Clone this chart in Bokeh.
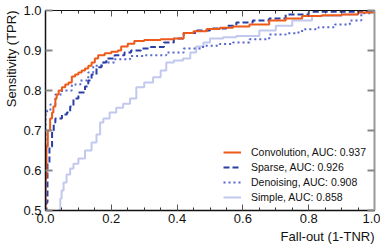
from bokeh.plotting import figure
from bokeh.models import (LinearAxis, Title, Legend, LegendItem, FixedTicker,
                          NumeralTickFormatter, CustomJSTickFormatter)
from bokeh.embed import file_html
from bokeh.resources import INLINE

# ROC data
conv_fpr = [0, 0, 0.003, 0.007, 0.014, 0.02, 0.024, 0.03, 0.034, 0.04, 0.05, 0.06, 0.07, 0.08, 0.09, 0.10,
            0.11, 0.12, 0.13, 0.14, 0.15, 0.16, 0.18, 0.20, 0.22, 0.23, 0.25, 0.27, 0.30, 0.35, 0.39, 0.42,
            0.45, 0.49, 0.53, 0.57, 0.62, 0.68, 0.73, 0.78, 0.84, 0.90, 0.95, 1.0]
conv_tpr = [0, 0.58, 0.66, 0.70, 0.73, 0.745, 0.76, 0.78, 0.79, 0.80, 0.808, 0.815, 0.82, 0.835, 0.84, 0.845,
            0.85, 0.855, 0.862, 0.87, 0.88, 0.888, 0.893, 0.897, 0.90, 0.91, 0.917, 0.924, 0.926, 0.928, 0.93, 0.944,
            0.948, 0.954, 0.957, 0.96, 0.965, 0.975, 0.98, 0.986, 0.988, 0.99, 0.995, 1.0]

sparse_fpr = [0, 0.003, 0.006, 0.012, 0.02, 0.025, 0.03, 0.05, 0.065, 0.075, 0.085, 0.10, 0.12, 0.13, 0.14,
              0.155, 0.17, 0.185, 0.21, 0.24, 0.26, 0.29, 0.32, 0.36, 0.39, 0.42, 0.46, 0.50, 0.55, 0.58,
              0.63, 0.68, 0.73, 0.80, 0.88, 0.95, 1.0]
sparse_tpr = [0, 0.52, 0.62, 0.66, 0.70, 0.72, 0.73, 0.74, 0.745, 0.76, 0.78, 0.795, 0.81, 0.825, 0.84,
              0.858, 0.87, 0.88, 0.888, 0.895, 0.90, 0.905, 0.909, 0.92, 0.93, 0.944, 0.95, 0.955, 0.962, 0.97,
              0.975, 0.98, 0.99, 0.997, 0.997, 0.999, 1.0]

den_fpr = [0, 0, 0.005, 0.015, 0.03, 0.05, 0.08, 0.106, 0.13, 0.145, 0.176, 0.21, 0.257, 0.30, 0.367, 0.42,
           0.479, 0.53, 0.57, 0.62, 0.68, 0.73, 0.76, 0.78, 0.83, 0.88, 0.925, 0.96, 0.99, 1.0]
den_tpr = [0, 0.74, 0.75, 0.765, 0.79, 0.80, 0.815, 0.825, 0.845, 0.862, 0.87, 0.878, 0.886, 0.888, 0.895, 0.905,
           0.912, 0.916, 0.92, 0.928, 0.94, 0.943, 0.945, 0.953, 0.958, 0.965, 0.975, 0.993, 1.0, 1.0]

simple_fpr = [0, 0.035, 0.039, 0.045, 0.049, 0.055, 0.064, 0.075, 0.085, 0.10, 0.12, 0.14, 0.155, 0.166, 0.176,
              0.195, 0.215, 0.236, 0.257, 0.276, 0.30, 0.327, 0.35, 0.367, 0.39, 0.418, 0.44, 0.458, 0.48, 0.50,
              0.54, 0.58, 0.65, 0.70, 0.75, 0.81, 0.90, 0.95, 1.0]
simple_tpr = [0, 0.45, 0.5, 0.53, 0.55, 0.57, 0.59, 0.605, 0.617, 0.63, 0.65, 0.67, 0.69, 0.72, 0.73,
              0.745, 0.757, 0.767, 0.78, 0.808, 0.82, 0.833, 0.85, 0.87, 0.875, 0.88, 0.895, 0.91, 0.92, 0.93,
              0.933, 0.936, 0.95, 0.962, 0.975, 0.986, 0.99, 0.995, 1.0]

labels = ["Convolution, AUC: 0.937", "Sparse, AUC: 0.926", "Denoising, AUC: 0.908", "Simple, AUC: 0.858"]
x_ticks = [0.0, 0.2, 0.4, 0.6, 0.8, 1.0]
y_ticks = [0.5, 0.6, 0.7, 0.8, 0.9, 1.0]
x_minor = [0.05, 0.1, 0.15, 0.25, 0.3, 0.35, 0.45, 0.5, 0.55, 0.65, 0.7, 0.75, 0.85, 0.9, 0.95]

FONT = "Liberation Sans"

p = figure(width=380, height=244, x_range=(0, 1), y_range=(0.5, 1.0),
           output_backend="svg", toolbar_location=None,
           min_border_left=10, min_border_right=6, min_border_top=10, min_border_bottom=10)
p.grid.visible = False
p.outline_line_color = "#222222"
p.outline_line_width = 1
p.background_fill_color = "white"
p.border_fill_color = "white"

r_simple = p.step(simple_fpr, simple_tpr, mode="after", line_color="#c2c8ee", line_width=2)
r_den = p.step(den_fpr, den_tpr, mode="after", line_color="#5566cc", line_width=2, line_dash="2 3")
r_sparse = p.step(sparse_fpr, sparse_tpr, mode="after", line_color="#2a3ea6", line_width=2, line_dash="6 3")
r_conv = p.step(conv_fpr, conv_tpr, mode="after", line_color="#ee5a1a", line_width=2)

blank = CustomJSTickFormatter(code="return '';")

# bottom axis
xa = p.xaxis[0]
xa.ticker = FixedTicker(ticks=x_ticks, minor_ticks=x_minor)
xa.formatter = NumeralTickFormatter(format="0.0")
xa.major_tick_in = 6
xa.major_tick_out = 0
xa.minor_tick_in = 3
xa.minor_tick_out = 0
xa.major_tick_line_color = "#555555"
xa.minor_tick_line_color = "#333333"
xa.axis_line_color = "#111111"
xa.axis_line_width = 1.5
xa.major_label_text_font = FONT
xa.major_label_text_font_size = "13px"
xa.major_label_text_color = "#111111"
xa.major_label_standoff = 3

# left axis
ya = p.yaxis[0]
ya.ticker = FixedTicker(ticks=y_ticks)
ya.formatter = NumeralTickFormatter(format="0.0")
ya.major_tick_in = 7
ya.major_tick_out = 0
ya.minor_tick_in = 0
ya.minor_tick_out = 0
ya.major_tick_line_color = "#888888"
ya.major_tick_line_width = 2
ya.axis_line_color = "#111111"
ya.axis_line_width = 1.5
ya.major_label_text_font = FONT
ya.major_label_text_font_size = "13px"
ya.major_label_text_color = "#111111"
ya.major_label_standoff = 4

# top axis (ticks only)
ta = LinearAxis(ticker=FixedTicker(ticks=x_ticks, minor_ticks=x_minor), formatter=blank)
ta.major_tick_in = 6
ta.major_tick_out = 0
ta.minor_tick_in = 3
ta.minor_tick_out = 0
ta.major_tick_line_color = "#555555"
ta.minor_tick_line_color = "#333333"
ta.axis_line_color = "#111111"
ta.major_label_standoff = 0
p.add_layout(ta, "above")

# right axis (ticks only)
ra = LinearAxis(ticker=FixedTicker(ticks=y_ticks), formatter=blank)
ra.major_tick_in = 7
ra.major_tick_out = 0
ra.minor_tick_in = 0
ra.minor_tick_out = 0
ra.major_tick_line_color = "#888888"
ra.major_tick_line_width = 2
ra.axis_line_color = "#999999"
ra.axis_line_width = 2
ra.major_label_standoff = 0
p.add_layout(ra, "right")

# axis titles
p.add_layout(Title(text="Fall-out (1-TNR)", align="right", text_font=FONT, text_font_size="13px",
                   text_font_style="normal", text_color="#111111", standoff=2), "below")
p.add_layout(Title(text="Sensitivity (TPR)", align="right", text_font=FONT, text_font_size="13px",
                   text_font_style="normal", text_color="#111111", standoff=3), "left")

legend = Legend(items=[LegendItem(label=labels[0], renderers=[r_conv]),
                       LegendItem(label=labels[1], renderers=[r_sparse]),
                       LegendItem(label=labels[2], renderers=[r_den]),
                       LegendItem(label=labels[3], renderers=[r_simple])],
                location=(178, 7), background_fill_alpha=0, border_line_color=None,
                label_text_font=FONT, label_text_font_size="10.5px", label_text_color="#111111",
                label_height=12, glyph_height=12, glyph_width=18, spacing=3, padding=4, margin=0,
                label_standoff=10)
p.add_layout(legend, "center")

open("out.html", "w").write(file_html(p, INLINE))
